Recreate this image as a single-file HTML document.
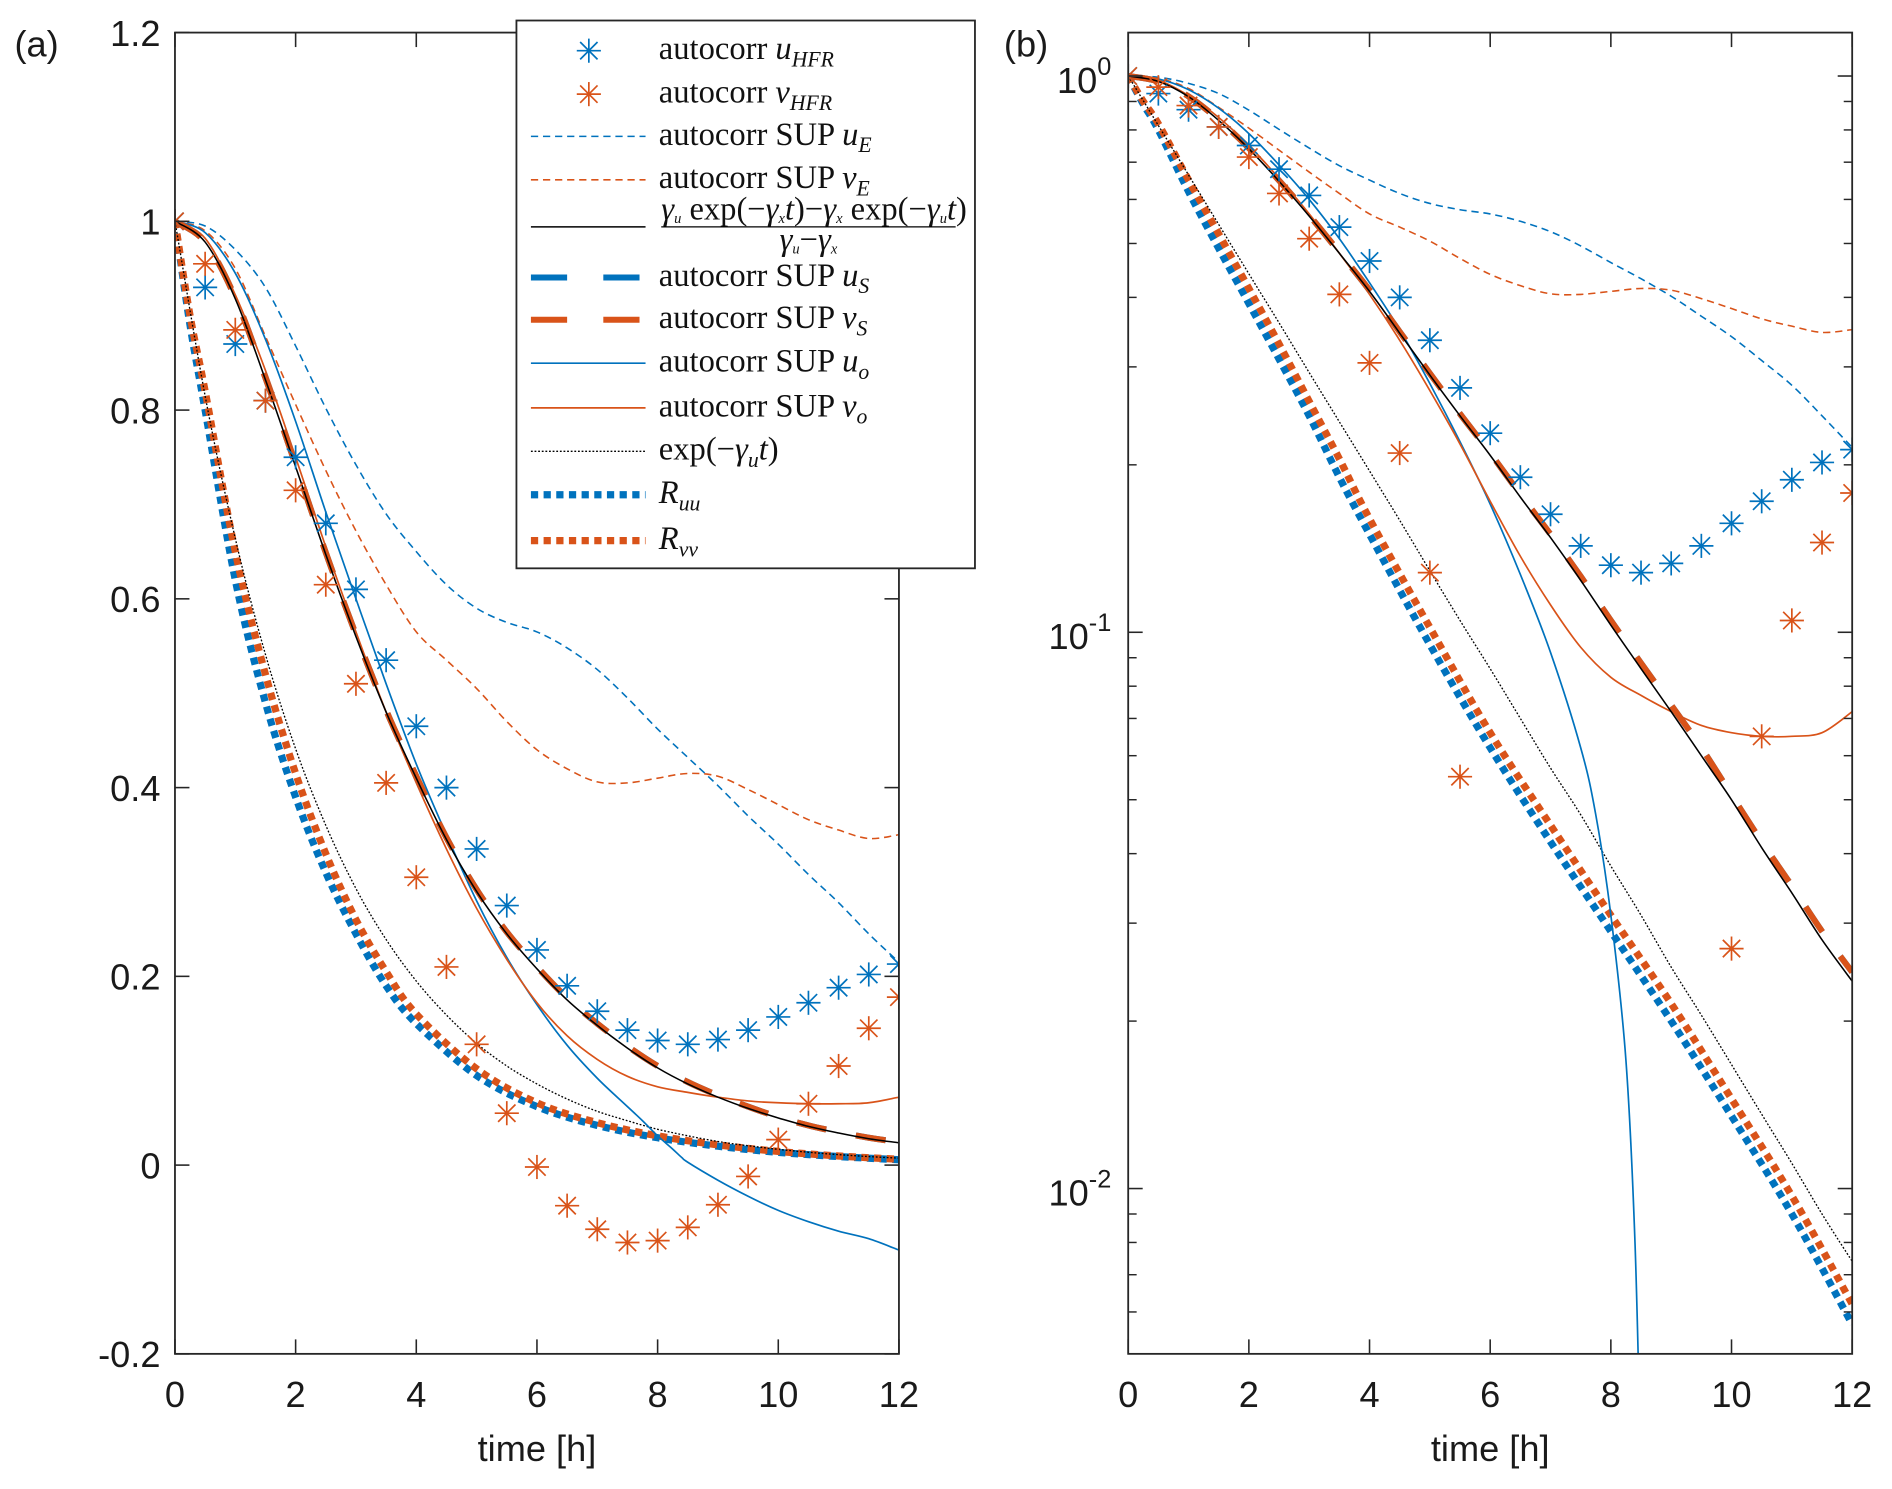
<!DOCTYPE html>
<html><head><meta charset="utf-8">
<style>
html,body{margin:0;padding:0;background:#fff;width:1892px;height:1489px;overflow:hidden;}
svg{display:block;}
.tk{font-family:"Liberation Sans",sans-serif;font-size:30px;fill:#1a1a1a;}
.lg{font-family:"Liberation Serif",serif;font-size:27px;fill:#111;}
</style></head>
<body>
<svg id="fig" width="1892" height="1489" viewBox="0 0 1568 1234" preserveAspectRatio="none" xmlns="http://www.w3.org/2000/svg">
<defs>
<clipPath id="clipA"><rect x="145" y="27" width="600" height="1095"/></clipPath>
<clipPath id="clipB"><rect x="935" y="27" width="600" height="1095"/></clipPath>
</defs>
<g id="panelA"></g>
<g id="panelB"></g>
<g id="legend"></g>
</svg>
<script>
// ---- data ----
const tStars = [0,0.5,1,1.5,2,2.5,3,3.5,4,4.5,5,5.5,6,6.5,7,7.5,8,8.5,9,9.5,10,10.5,11,11.5,12];
const uHFR = [1,0.93,0.87,0.81,0.75,0.68,0.61,0.535,0.465,0.40,0.335,0.275,0.228,0.19,0.163,0.143,0.132,0.128,0.133,0.143,0.157,0.172,0.188,0.202,0.213];
const vHFR = [1,0.955,0.885,0.81,0.715,0.615,0.51,0.405,0.305,0.21,0.128,0.055,-0.002,-0.043,-0.068,-0.082,-0.08,-0.066,-0.042,-0.012,0.027,0.065,0.105,0.145,0.178];
const tLine = [0,0.5,1,1.5,2,2.5,3,3.5,4,4.5,5,5.5,6,6.5,7,7.5,8,8.5,9,9.5,10,10.5,11,11.5,12];
const uE = [1,0.995,0.97,0.93,0.868,0.802,0.742,0.69,0.65,0.615,0.59,0.575,0.565,0.548,0.525,0.495,0.462,0.432,0.402,0.37,0.34,0.308,0.278,0.245,0.215];
const vE = [1,0.99,0.95,0.878,0.806,0.736,0.672,0.615,0.565,0.535,0.505,0.47,0.44,0.42,0.406,0.405,0.41,0.415,0.412,0.398,0.382,0.366,0.355,0.346,0.35];
const analytic = [1,0.978,0.918,0.832,0.74,0.647,0.56,0.48,0.41,0.345,0.29,0.245,0.208,0.175,0.148,0.124,0.103,0.086,0.072,0.06,0.05,0.041,0.034,0.028,0.0236];
const uS = [1,0.978,0.919,0.834,0.742,0.649,0.562,0.482,0.412,0.347,0.292,0.247,0.21,0.177,0.15,0.126,0.105,0.088,0.074,0.062,0.051,0.042,0.035,0.029,0.0245];
const vS = [1,0.978,0.919,0.834,0.742,0.649,0.562,0.482,0.412,0.347,0.292,0.247,0.21,0.177,0.15,0.126,0.105,0.088,0.074,0.062,0.051,0.042,0.035,0.029,0.0245];
const tUo = [0,0.5,1,1.5,2,2.5,3,3.5,4,4.5,5,5.5,6,6.5,7,7.5,7.75,8,8.25,8.4,8.5,9,9.5,10,10.5,11,11.5,12];
const uo = [1,0.988,0.945,0.875,0.788,0.692,0.6,0.51,0.425,0.35,0.28,0.22,0.17,0.127,0.092,0.062,0.047,0.031,0.017,0.008,0.003,-0.016,-0.033,-0.048,-0.06,-0.07,-0.078,-0.09];
const vo = [1,0.982,0.922,0.842,0.75,0.655,0.565,0.48,0.405,0.335,0.272,0.218,0.172,0.137,0.112,0.094,0.083,0.077,0.072,0.068,0.066,0.065,0.065,0.066,0.072];
const expU = [1,0.815,0.664,0.541,0.441,0.36,0.293,0.239,0.195,0.159,0.129,0.105,0.086,0.07,0.057,0.047,0.038,0.031,0.025,0.0205,0.0167,0.0136,0.0111,0.009,0.0074];
const tR = [0,0.25,0.5,1,1.5,2,2.5,3,3.5,4,5,6,7,8,9,10,11,12];
const Ruu = [1,0.89,0.8,0.62,0.49,0.39,0.31,0.245,0.19,0.15,0.095,0.062,0.042,0.029,0.02,0.0135,0.009,0.0057];
const Rvv = [1,0.9,0.82,0.65,0.52,0.415,0.33,0.26,0.205,0.16,0.102,0.066,0.045,0.031,0.0215,0.0145,0.0097,0.0062];
const xTicks = [0,2,4,6,8,10,12];
const yTicksA = [-0.2,0,0.2,0.4,0.6,0.8,1,1.2];
const yTickLabelsA = ["-0.2","0","0.2","0.4","0.6","0.8","1","1.2"];
const yDecadesB = [0,-1,-2];

// ---- axes ----
const BLUE="#0072BD", RED="#D95319";
const NS="http://www.w3.org/2000/svg";
const axA = {x0:145,x1:745,y0:27,y1:1122};
const axB = {x0:935,x1:1535,y0:27,y1:1122};
const xA = t => axA.x0 + t/12*(axA.x1-axA.x0);
const yA = v => axA.y1 - (v+0.2)/1.4*(axA.y1-axA.y0);
const xB = t => axB.x0 + t/12*(axB.x1-axB.x0);
const yB = v => 63 - 461*Math.log10(v);

function mk(tag, attrs, parent){
  const e=document.createElementNS(NS,tag);
  for(const k in attrs) e.setAttribute(k,attrs[k]);
  parent.appendChild(e); return e;
}
const pA=document.getElementById('panelA'), pB=document.getElementById('panelB'), lgG=document.getElementById('legend');

function smoothSeg(pts){
  if(pts.length<2) return "";
  let d="M"+pts[0][0].toFixed(1)+" "+pts[0][1].toFixed(1)+" ";
  for(let i=0;i<pts.length-1;i++){
    const p0=pts[i-1]||pts[i], p1=pts[i], p2=pts[i+1], p3=pts[i+2]||pts[i+1];
    const c1=[p1[0]+(p2[0]-p0[0])/6, p1[1]+(p2[1]-p0[1])/6];
    const c2=[p2[0]-(p3[0]-p1[0])/6, p2[1]-(p3[1]-p1[1])/6];
    d+="C"+c1[0].toFixed(1)+" "+c1[1].toFixed(1)+" "+c2[0].toFixed(1)+" "+c2[1].toFixed(1)+" "+p2[0].toFixed(1)+" "+p2[1].toFixed(1)+" ";
  }
  return d;
}
function linePath(ts, vs, fx, fy, log){
  let d="", seg=[];
  for(let i=0;i<ts.length;i++){
    const v=vs[i];
    if(log && v<=0){ d+=smoothSeg(seg); seg=[]; continue; }
    seg.push([fx(ts[i]), fy(v)]);
  }
  d+=smoothSeg(seg);
  return d;
}
function drawLine(g, name, ts, vs, fx, fy, log, style, clip){
  const p=mk('path',{d:linePath(ts,vs,fx,fy,log),fill:'none','clip-path':clip,...style},g);
  
  
}
function star(g, X, Y, color, r){
  const s=mk('g',{stroke:color,'stroke-width':1.4},g);
  
  
  mk('line',{x1:X-r,y1:Y,x2:X+r,y2:Y},s);
  mk('line',{x1:X,y1:Y-r,x2:X,y2:Y+r},s);
  const q=r*0.72;
  mk('line',{x1:X-q,y1:Y-q,x2:X+q,y2:Y+q},s);
  mk('line',{x1:X-q,y1:Y+q,x2:X+q,y2:Y-q},s);
}
function drawStars(g, name, ts, vs, fx, fy, log, color, clip){
  const sg=mk('g',{'clip-path':clip},g);
  
  
  for(let i=0;i<ts.length;i++){
    if(log && vs[i]<=0) continue;
    star(sg, fx(ts[i]), fy(vs[i]), color, 10);
  }
}
function drawSeries(g, fx, fy, log, clip){
  drawLine(g,'ruu-line',tR,Ruu,fx,fy,log,{stroke:BLUE,'stroke-width':6,'stroke-dasharray':'6 4.5'},clip);
  drawLine(g,'rvv-line',tR,Rvv,fx,fy,log,{stroke:RED,'stroke-width':6,'stroke-dasharray':'6 4.5'},clip);
  drawLine(g,'exp-line',tLine,expU,fx,fy,log,{stroke:'#000','stroke-width':1.1,'stroke-dasharray':'1.5 1.5'},clip);
  drawLine(g,'ue-line',tLine,uE,fx,fy,log,{stroke:BLUE,'stroke-width':1.3,'stroke-dasharray':'6 4'},clip);
  drawLine(g,'ve-line',tLine,vE,fx,fy,log,{stroke:RED,'stroke-width':1.3,'stroke-dasharray':'6 4'},clip);
  drawLine(g,'uo-line',tUo,uo,fx,fy,log,{stroke:BLUE,'stroke-width':1.4},clip);
  drawLine(g,'vo-line',tLine,vo,fx,fy,log,{stroke:RED,'stroke-width':1.4},clip);
  drawLine(g,'us-line',tLine,uS,fx,fy,log,{stroke:BLUE,'stroke-width':5,'stroke-dasharray':'25 25'},clip);
  drawLine(g,'vs-line',tLine,vS,fx,fy,log,{stroke:RED,'stroke-width':5,'stroke-dasharray':'25 25'},clip);
  drawLine(g,'analytic-line',tLine,analytic,fx,fy,log,{stroke:'#000','stroke-width':1.3},clip);
  drawStars(g,'uhfr-markers',tStars,uHFR,fx,fy,log,BLUE,clip);
  drawStars(g,'vhfr-markers',tStars,vHFR,fx,fy,log,RED,clip);
}
function frame(g, ax, fx){
  const r=mk('rect',{x:ax.x0,y:ax.y0,width:ax.x1-ax.x0,height:ax.y1-ax.y0,fill:'none',stroke:'#262626','stroke-width':1.5},g);
   
  xTicks.forEach(t=>{
    const X=fx(t);
    mk('line',{x1:X,y1:ax.y1,x2:X,y2:ax.y1-12,stroke:'#262626','stroke-width':1.3},g);
    mk('line',{x1:X,y1:ax.y0,x2:X,y2:ax.y0+12,stroke:'#262626','stroke-width':1.3},g);
    const tx=mk('text',{x:X,y:ax.y1+44,'text-anchor':'middle',class:'tk'},g);
    tx.textContent=t;
     
  });
  const xl=mk('text',{x:(ax.x0+ax.x1)/2,y:ax.y1+89,'text-anchor':'middle',class:'tk','font-size':'33'},g);
  xl.textContent='time [h]';
   
}
// Panel A
drawSeries(pA,xA,yA,false,'url(#clipA)');
frame(pA,axA,xA);
yTicksA.forEach((v,i)=>{
  const Y=yA(v);
  mk('line',{x1:axA.x0,y1:Y,x2:axA.x0+12,y2:Y,stroke:'#262626','stroke-width':1.3},pA);
  mk('line',{x1:axA.x1,y1:Y,x2:axA.x1-12,y2:Y,stroke:'#262626','stroke-width':1.3},pA);
  const tx=mk('text',{x:axA.x0-12,y:Y+11,'text-anchor':'end',class:'tk'},pA);
  tx.textContent=yTickLabelsA[i];
   
});
const la=mk('text',{x:12,y:47,class:'tk','font-size':'30'},pA); la.textContent='(a)';
 
// Panel B
drawSeries(pB,xB,yB,true,'url(#clipB)');
frame(pB,axB,xB);
yDecadesB.forEach(d=>{
  const Y=yB(Math.pow(10,d));
  mk('line',{x1:axB.x0,y1:Y,x2:axB.x0+12,y2:Y,stroke:'#262626','stroke-width':1.3},pB);
  mk('line',{x1:axB.x1,y1:Y,x2:axB.x1-12,y2:Y,stroke:'#262626','stroke-width':1.3},pB);
  const tx=mk('text',{x:axB.x0-14,y:Y+14,'text-anchor':'end',class:'tk','font-size':'31'},pB);
  tx.textContent='10';
  const sp=mk('tspan',{dy:-15,'font-size':'21'},tx); sp.textContent=String(d);
   
  for(let m=2;m<=9;m++){
    const v=m*Math.pow(10,d-1);
    const Ym=yB(v);
    if(Ym<axB.y0||Ym>axB.y1) continue;
    mk('line',{x1:axB.x0,y1:Ym,x2:axB.x0+7,y2:Ym,stroke:'#262626','stroke-width':1.2},pB);
    mk('line',{x1:axB.x1,y1:Ym,x2:axB.x1-7,y2:Ym,stroke:'#262626','stroke-width':1.2},pB);
  }
});
const lb=mk('text',{x:832,y:47,class:'tk','font-size':'30'},pB); lb.textContent='(b)';
 

// Legend
mk('rect',{x:428,y:17,width:380,height:454,fill:'#fff',stroke:'#262626','stroke-width':1.5},lgG);
const rows=[
 {y:42,type:'star',c:BLUE,html:'autocorr <i>u</i><tspan font-size="18" dy="6" font-style="italic">HFR</tspan>'},
 {y:78,type:'star',c:RED,html:'autocorr <i>v</i><tspan font-size="18" dy="6" font-style="italic">HFR</tspan>'},
 {y:113,type:'line',st:{stroke:BLUE,'stroke-width':1.3,'stroke-dasharray':'6 4'},html:'autocorr SUP <i>u</i><tspan font-size="18" dy="6" font-style="italic">E</tspan>'},
 {y:149,type:'line',st:{stroke:RED,'stroke-width':1.3,'stroke-dasharray':'6 4'},html:'autocorr SUP <i>v</i><tspan font-size="18" dy="6" font-style="italic">E</tspan>'},
 {y:230,type:'line',st:{stroke:BLUE,'stroke-width':5,'stroke-dasharray':'30 30'},html:'autocorr SUP <i>u</i><tspan font-size="18" dy="6" font-style="italic">S</tspan>'},
 {y:265,type:'line',st:{stroke:RED,'stroke-width':5,'stroke-dasharray':'30 30'},html:'autocorr SUP <i>v</i><tspan font-size="18" dy="6" font-style="italic">S</tspan>'},
 {y:301,type:'line',st:{stroke:BLUE,'stroke-width':1.4},html:'autocorr SUP <i>u</i><tspan font-size="18" dy="6" font-style="italic">o</tspan>'},
 {y:338,type:'line',st:{stroke:RED,'stroke-width':1.4},html:'autocorr SUP <i>v</i><tspan font-size="18" dy="6" font-style="italic">o</tspan>'},
 {y:374,type:'line',st:{stroke:'#000','stroke-width':1.1,'stroke-dasharray':'1.5 1.5'},html:'exp(−<i>γ</i><tspan font-size="18" dy="6" font-style="italic">u</tspan><tspan dy="-6"><tspan font-style="italic">t</tspan>)</tspan>'},
 {y:410,type:'line',st:{stroke:BLUE,'stroke-width':6,'stroke-dasharray':'6 4.5'},html:'<i>R</i><tspan font-size="18" dy="6" font-style="italic">uu</tspan>'},
 {y:448,type:'line',st:{stroke:RED,'stroke-width':6,'stroke-dasharray':'6 4.5'},html:'<i>R</i><tspan font-size="18" dy="6" font-style="italic">vv</tspan>'}
];
rows.forEach(r=>{
  const g=mk('g',{},lgG);
  
  
  if(r.type==='star') star(g,488,r.y,r.c,10);
  else mk('line',{x1:440,y1:r.y,x2:535,y2:r.y,...r.st},g);
  const t=mk('text',{x:546,y:r.y+7,class:'lg'},g);
  t.innerHTML=r.html.replace(/<i>/g,'<tspan font-style="italic">').replace(/<\/i>/g,'</tspan>');
});
// fraction entry
const fg=mk('g',{},lgG);


mk('line',{x1:440,y1:188,x2:535,y2:188,stroke:'#000','stroke-width':1.3},fg);
const num=mk('text',{x:548,y:182,class:'lg','font-size':'18'},fg);
num.innerHTML='<tspan font-style="italic">γ</tspan><tspan font-size="12" dy="3" font-style="italic">u</tspan><tspan dy="-3"> exp(−</tspan><tspan font-style="italic">γ</tspan><tspan font-size="12" dy="3" font-style="italic">x</tspan><tspan dy="-3" font-style="italic">t</tspan>)−<tspan font-style="italic">γ</tspan><tspan font-size="12" dy="3" font-style="italic">x</tspan><tspan dy="-3"> exp(−</tspan><tspan font-style="italic">γ</tspan><tspan font-size="12" dy="3" font-style="italic">u</tspan><tspan dy="-3" font-style="italic">t</tspan>)';
mk('line',{x1:548,y1:188,x2:792,y2:188,stroke:'#000','stroke-width':1},fg);
const den=mk('text',{x:670,y:207,'text-anchor':'middle',class:'lg','font-size':'18'},fg);
den.innerHTML='<tspan font-style="italic">γ</tspan><tspan font-size="12" dy="3" font-style="italic">u</tspan><tspan dy="-3">−</tspan><tspan font-style="italic">γ</tspan><tspan font-size="12" dy="3" font-style="italic">x</tspan>';
</script>
</body></html>
